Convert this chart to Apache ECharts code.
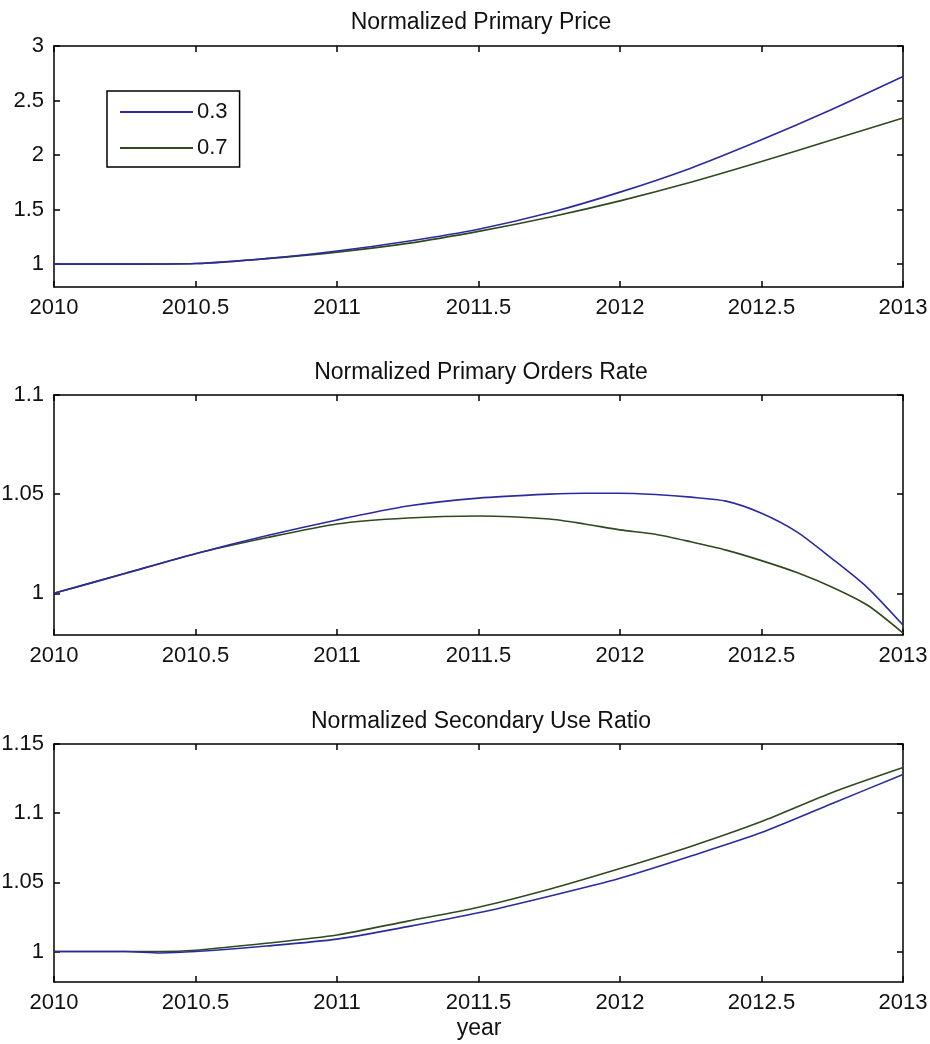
<!DOCTYPE html>
<html><head><meta charset="utf-8">
<script src="https://cdn.jsdelivr.net/npm/echarts@6/dist/echarts.min.js"></script>
<style>html,body{margin:0;padding:0;background:#fff}#c{width:930px;height:1044px}</style>
</head><body><div id="c"></div>
<script>
// ---- data ----
const seriesNames = ['0.3', '0.7'];
const titles = ['Normalized Primary Price', 'Normalized Primary Orders Rate', 'Normalized Secondary Use Ratio'];
const xLabel = 'year';
const xTicks = [2010, 2010.5, 2011, 2011.5, 2012, 2012.5, 2013];

const priceYears = [2010, 2010.25, 2010.5, 2010.75, 2011, 2011.25, 2011.5, 2011.75, 2012, 2012.25, 2012.5, 2012.75, 2013];
const priceA = [1.0, 1.0, 1.005, 1.05, 1.12, 1.21, 1.32, 1.47, 1.66, 1.88, 2.14, 2.42, 2.72];
const priceB = [1.0, 1.0, 1.005, 1.05, 1.11, 1.19, 1.30, 1.43, 1.58, 1.75, 1.94, 2.14, 2.34];

const ordersYears = [2010, 2010.25, 2010.5, 2010.75, 2011, 2011.25, 2011.5, 2011.75, 2011.875, 2012, 2012.125, 2012.25, 2012.375, 2012.5, 2012.625, 2012.75, 2012.875, 2013];
const ordersA = [1.0, 1.010, 1.020, 1.029, 1.037, 1.044, 1.048, 1.050, 1.0505, 1.0505, 1.0498, 1.0485, 1.0465, 1.0404, 1.031, 1.0174, 1.0028, 0.984];
const ordersB = [1.0, 1.010, 1.020, 1.028, 1.035, 1.038, 1.039, 1.0375, 1.035, 1.032, 1.0298, 1.026, 1.0218, 1.0165, 1.0105, 1.0031, 0.994, 0.980];

const useYears = [2010, 2010.25, 2010.375, 2010.5, 2010.75, 2011, 2011.25, 2011.5, 2011.75, 2012, 2012.25, 2012.5, 2012.75, 2013];
const useA = [1.0, 1.0, 0.999, 1.0, 1.004, 1.009, 1.018, 1.028, 1.040, 1.053, 1.069, 1.086, 1.107, 1.128];
const useB = [1.0, 1.0, 1.0, 1.001, 1.006, 1.012, 1.022, 1.032, 1.045, 1.060, 1.076, 1.094, 1.115, 1.133];

const yRanges = [
  {min: 0.79, max: 3, ticks: [1, 1.5, 2, 2.5, 3]},
  {min: 0.979, max: 1.1, ticks: [1, 1.05, 1.1]},
  {min: 0.978, max: 1.15, ticks: [1, 1.05, 1.1, 1.15]}
];
// ---- layout ----
const FONT = 'Liberation Sans, Arial, sans-serif';
const grids = [
  {left: 54, right: 27, top: 46, height: 241, containLabel: false, outerBoundsMode: 'none'},
  {left: 54, right: 27, top: 395, height: 240, containLabel: false, outerBoundsMode: 'none'},
  {left: 54, right: 27, top: 744, height: 238, containLabel: false, outerBoundsMode: 'none'}
];
const colors = ['#2b2ba0', '#2f4a1f'];
const panels = [[priceYears, priceA, priceB], [ordersYears, ordersA, ordersB], [useYears, useA, useB]];

const xAxes = [], yAxes = [], series = [];
grids.forEach((g, i) => {
  const common = {gridIndex: i, type: 'value', min: 2010, max: 2013,
    axisLine: {show: true, lineStyle: {color: '#000', width: 1.5}},
    axisTick: {show: true, inside: true, length: 6, customValues: xTicks, lineStyle: {color: '#000', width: 1.5}},
    splitLine: {show: false}};
  xAxes.push(Object.assign({}, common, {position: 'bottom',
    axisLabel: {show: true, customValues: xTicks, color: '#111', fontSize: 22, fontFamily: FONT, margin: 10,
      formatter: v => String(v)}}));
  xAxes.push(Object.assign({}, common, {position: 'top', axisLabel: {show: false}}));
  const r = yRanges[i];
  const yc = {gridIndex: i, type: 'value', min: r.min, max: r.max,
    axisLine: {show: true, lineStyle: {color: '#000', width: 1.5}},
    axisTick: {show: true, inside: true, length: 6, customValues: r.ticks, lineStyle: {color: '#000', width: 1.5}},
    splitLine: {show: false}};
  yAxes.push(Object.assign({}, yc, {position: 'left',
    axisLabel: {show: true, customValues: r.ticks, color: '#111', fontSize: 22, fontFamily: FONT, margin: 10,
      formatter: v => String(+v.toFixed(2))}}));
  yAxes.push(Object.assign({}, yc, {position: 'right', axisLabel: {show: false}}));
  const [xs, a, b] = panels[i];
  [a, b].forEach((arr, k) => {
    series.push({name: seriesNames[k], type: 'line', xAxisIndex: i * 2, yAxisIndex: i * 2,
      data: xs.map((x, j) => [x, arr[j]]), symbol: 'none', showSymbol: false,
      smooth: 0.25,
      lineStyle: {color: colors[k], width: 1.6}, itemStyle: {color: colors[k]}, z: 3 - k});
  });
});

const chart = echarts.init(document.getElementById('c'), null, {renderer: 'canvas'});
chart.setOption({
  backgroundColor: '#fff',
  animation: false,
  title: [
    {text: titles[0], left: 476, top: 6, textAlign: 'center'},
    {text: titles[1], left: 476, top: 356, textAlign: 'center'},
    {text: titles[2], left: 476, top: 705, textAlign: 'center'},
    {text: xLabel, left: 474, top: 1012, textAlign: 'center'}
  ].map(t => Object.assign(t, {textStyle: {fontSize: 23, fontWeight: 'normal', color: '#111', fontFamily: FONT}})),
  legend: {
    data: seriesNames.map(n => ({name: n, icon: 'rect'})),
    left: 107, top: 91, orient: 'vertical',
    itemWidth: 73, itemHeight: 2, itemGap: 14,
    padding: [10, 12, 8, 13],
    borderColor: '#000', borderWidth: 1.5, backgroundColor: '#fff',
    textStyle: {fontSize: 22, color: '#111', fontFamily: FONT, padding: [0, 0, 0, -1]}
  },
  grid: grids,
  xAxis: xAxes,
  yAxis: yAxes,
  series: series
});
</script></body></html>
